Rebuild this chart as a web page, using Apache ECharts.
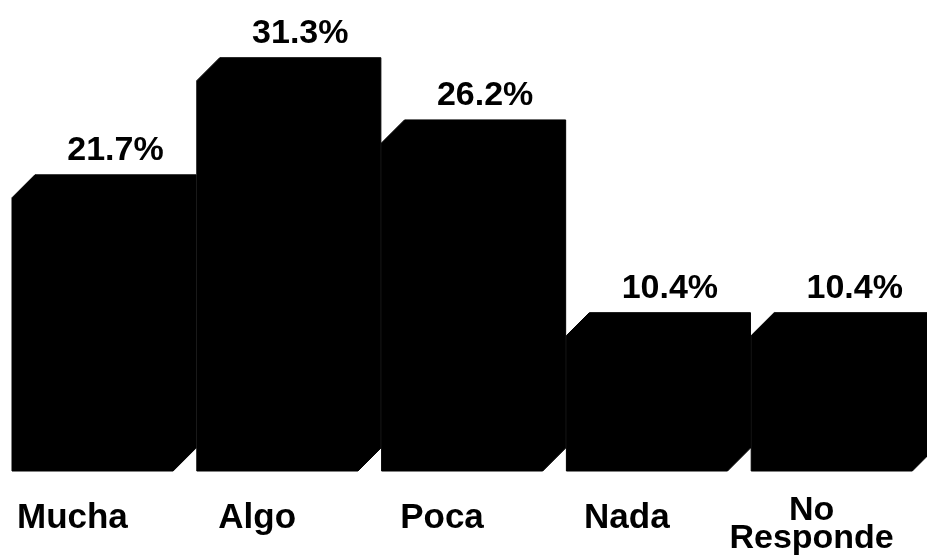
<!DOCTYPE html>
<html>
<head>
<meta charset="utf-8">
<script src="https://cdn.jsdelivr.net/npm/echarts@6/dist/echarts.min.js"></script>
<style>html,body{margin:0;padding:0;background:#fff;}#c{width:927px;height:560px;}</style>
</head>
<body>
<div id="c"></div>
<script>
const categories = ['Mucha', 'Algo', 'Poca', 'Nada', 'No\nResponde'];
const values = [21.7, 31.3, 26.2, 10.4, 10.4];
const valueLabels = ['21.7%', '31.3%', '26.2%', '10.4%', '10.4%'];
const yMin = -0.7;
const yMax = 35;

const FONT = '"Liberation Sans", Arial, sans-serif';
const chart = echarts.init(document.getElementById('c'), null, {renderer: 'canvas'});

function renderItem(params, api) {
  const idx = params.dataIndex;
  const val = api.value(1);
  const bw = api.size([1, 0])[0];
  const cx = api.coord([idx, 0])[0];
  const x0 = cx - bw / 2;
  const W = bw * 0.872;
  const D = bw * 0.124;
  const yTop = api.coord([idx, val])[1];
  const yBot = api.coord([idx, yMin])[1];
  return {
    type: 'group',
    children: [
      {
        type: 'polygon',
        shape: {points: [
          [x0, yBot], [x0, yTop], [x0 + D, yTop - D], [x0 + W + D, yTop - D],
          [x0 + W + D, yBot - D], [x0 + W, yBot]
        ]},
        style: {fill: '#000', stroke: '#000', lineWidth: 1}
      },
      {
        type: 'text',
        style: {
          x: x0 + D + W / 2,
          y: yTop - D - 7,
          text: valueLabels[idx],
          fill: '#000',
          font: 'bold 34px ' + FONT,
          align: 'center',
          verticalAlign: 'bottom'
        }
      }
    ]
  };
}

chart.setOption({
  animation: false,
  backgroundColor: '#fff',
  grid: {left: 12, right: -9, top: 35.5, bottom: 89, containLabel: false, outerBoundsMode: 'none'},
  xAxis: {
    type: 'category',
    data: categories,
    axisLine: {show: false},
    axisTick: {show: false},
    axisLabel: {
      interval: 0,
      margin: 26,
      padding: [0, 64, 0, 0],
      color: '#000',
      fontFamily: FONT,
      fontWeight: 'bold',
      fontSize: 35,
      formatter: function (v) {
        if (v.indexOf('\n') >= 0) {
          return v.split('\n').map(s => '{two|' + s + '}').join('\n');
        }
        return '{one|' + v + '}';
      },
      rich: {
        one: {fontFamily: FONT, fontWeight: 'bold', fontSize: 35, color: '#000', lineHeight: 42},
        two: {fontFamily: FONT, fontWeight: 'bold', fontSize: 34, color: '#000', lineHeight: 28}
      }
    }
  },
  yAxis: {
    type: 'value',
    min: yMin,
    max: yMax,
    show: false,
    splitLine: {show: false}
  },
  series: [{
    type: 'custom',
    renderItem: renderItem,
    data: values.map((v, i) => [i, v]),
    clip: false
  }]
});
</script>
</body>
</html>
